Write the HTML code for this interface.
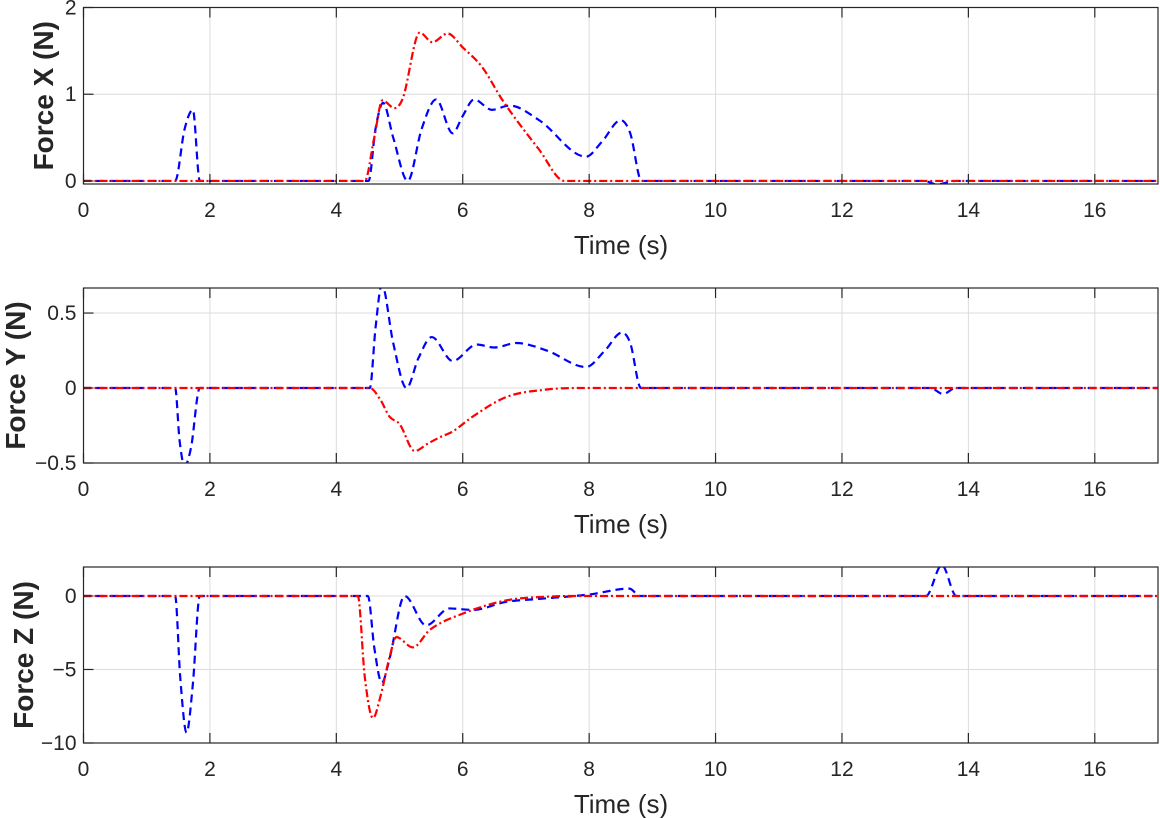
<!DOCTYPE html>
<html><head><meta charset="utf-8"><style>
html,body{margin:0;padding:0;background:#fff;}
svg{display:block;font-family:"Liberation Sans",Arial,sans-serif;}
</style></head><body>
<svg id="chart" width="1160" height="818" viewBox="0 0 1160 818" xmlns="http://www.w3.org/2000/svg"></svg>
<script>
// ----- data -----
const xTicks = [0,2,4,6,8,10,12,14,16];

const fxTime = [0,4.45,4.6,4.73,4.92,5.05,5.32,5.52,5.76,6.0,6.31,6.63,7.21,7.61,17];
const fxSim  = [0,0,0.5,0.93,0.84,0.95,1.71,1.6,1.70,1.54,1.31,0.93,0.36,0,0];
const fxMeasTime = [0,1.45,1.6,1.73,1.84,4.51,4.62,4.74,4.9,5.13,5.35,5.58,5.84,6.0,6.18,6.46,6.74,7.21,7.95,8.2,8.5,8.65,8.83,13.3,13.5,13.8,17];
const fxMeas = [0,0,0.6,0.82,0,0,0.6,0.90,0.5,0,0.6,0.94,0.55,0.75,0.94,0.82,0.87,0.70,0.28,0.45,0.70,0.55,0,0,-0.04,0,0];

const fyTime = [0,4.53,4.7,4.84,5.0,5.24,5.45,5.63,5.84,6.16,6.69,7.33,7.8,17];
const fySim  = [0,0,-0.08,-0.19,-0.24,-0.42,-0.37,-0.33,-0.29,-0.19,-0.06,-0.01,0,0];
const fyMeasTime = [0,1.45,1.52,1.6,1.7,1.84,4.53,4.62,4.72,4.9,5.11,5.3,5.51,5.84,6.22,6.5,6.85,7.33,7.95,8.25,8.52,8.65,8.82,13.4,13.6,13.8,17];
const fyMeas = [0,0,-0.35,-0.52,-0.4,0,0,0.4,0.69,0.3,0,0.2,0.34,0.18,0.29,0.27,0.30,0.25,0.14,0.25,0.37,0.3,0,0,-0.04,0,0];

const fzTime = [0,4.34,4.45,4.58,4.7,4.84,4.95,5.21,5.48,6.0,6.69,7.33,7.8,17];
const fzSim  = [0,0,-5.5,-8.3,-6.8,-4.2,-2.8,-3.5,-2.3,-1.2,-0.3,-0.05,0,0];
const fzMeasTime = [0,1.45,1.53,1.63,1.73,1.84,4.5,4.6,4.72,4.84,5.08,5.42,5.79,6.16,6.69,7.21,8.0,8.64,8.8,13.33,13.58,13.81,17];
const fzMeas = [0,0,-5.5,-9.3,-6,0,0,-3.5,-5.9,-4.3,0,-2.0,-0.85,-0.95,-0.4,-0.2,0.1,0.5,0,0,2.1,0,0];

const panels = [
  {name:'force-x', label:'Force X (N)', labelX:53, top:7.5, bottom:184, ymin:-0.035, ymax:2, yTicks:[0,1,2], yTickLabels:['0','1','2'], sim:[fxTime,fxSim], meas:[fxMeasTime,fxMeas]},
  {name:'force-y', label:'Force Y (N)', labelX:25, top:288, bottom:463, ymin:-0.5, ymax:0.667, yTicks:[-0.5,0,0.5], yTickLabels:['\u22120.5','0','0.5'], sim:[fyTime,fySim], meas:[fyMeasTime,fyMeas]},
  {name:'force-z', label:'Force Z (N)', labelX:33, top:567, bottom:743, ymin:-10, ymax:1.97, yTicks:[-10,-5,0], yTickLabels:['\u221210','\u22125','0'], sim:[fzTime,fzSim], meas:[fzMeasTime,fzMeas]}
];

const NS='http://www.w3.org/2000/svg';
const svg=document.getElementById('chart');
const L=83.5, R=1158, XMIN=0, XMAX=17;
const xs = t => L + (t-XMIN)/(XMAX-XMIN)*(R-L);
function mk(tag, attrs, parent){const e=document.createElementNS(NS,tag);for(const k in attrs)e.setAttribute(k,attrs[k]);(parent||svg).appendChild(e);return e;}

function pathD(p){
  const n=p.length, d=[], m=new Array(n).fill(0);
  for(let i=0;i<n-1;i++) d.push((p[i+1][1]-p[i][1])/(p[i+1][0]-p[i][0]));
  m[0]=d[0]; m[n-1]=d[n-2];
  for(let i=1;i<n-1;i++){ m[i]=(d[i-1]*d[i]<=0)?0:(d[i-1]+d[i])/2; }
  for(let i=0;i<n-1;i++){
    if(d[i]===0){m[i]=0;m[i+1]=0;continue;}
    const a=m[i]/d[i], b=m[i+1]/d[i], s=a*a+b*b;
    if(s>9){const t=3/Math.sqrt(s); m[i]=t*a*d[i]; m[i+1]=t*b*d[i];}
  }
  let s='M'+p[0][0].toFixed(2)+','+p[0][1].toFixed(2);
  for(let i=0;i<n-1;i++){
    const h=(p[i+1][0]-p[i][0])/3;
    s+=' C'+(p[i][0]+h).toFixed(2)+','+(p[i][1]+m[i]*h).toFixed(2)+' '+(p[i+1][0]-h).toFixed(2)+','+(p[i+1][1]-m[i+1]*h).toFixed(2)+' '+p[i+1][0].toFixed(2)+','+p[i+1][1].toFixed(2);
  }
  return s;
}

panels.forEach((p,pi)=>{
  const ys = v => p.bottom - (v-p.ymin)/(p.ymax-p.ymin)*(p.bottom-p.top);
  const g=mk('g',{});
  
  
  const cp=mk('clipPath',{id:'clip'+pi},g);
  mk('rect',{x:L,y:p.top,width:R-L,height:p.bottom-p.top},cp);
  xTicks.forEach(t=>{
    const l=mk('line',{x1:xs(t),x2:xs(t),y1:p.top,y2:p.bottom,stroke:'#dcdcdc','stroke-width':1},g);
    
    
  });
  p.yTicks.forEach(v=>{
    const l=mk('line',{x1:L,x2:R,y1:ys(v),y2:ys(v),stroke:'#dcdcdc','stroke-width':1},g);
    
    
  });
  const simPts=p.sim[0].map((t,i)=>[xs(t),ys(p.sim[1][i])]);
  const measPts=p.meas[0].map((t,i)=>[xs(t),ys(p.meas[1][i])]);
  const sm=mk('path',{d:pathD(measPts),fill:'none',stroke:'#0000ff','stroke-width':2.2,'stroke-dasharray':'8,5','clip-path':'url(#clip'+pi+')'},g);
  
  
  const ss=mk('path',{d:pathD(simPts),fill:'none',stroke:'#ff0000','stroke-width':2.2,'stroke-dasharray':'8,3,2,3','clip-path':'url(#clip'+pi+')'},g);
  
  
  const box=mk('rect',{x:L,y:p.top,width:R-L,height:p.bottom-p.top,fill:'none',stroke:'#262626','stroke-width':1.2},g);
  
  
  xTicks.forEach(t=>{
    mk('line',{x1:xs(t),x2:xs(t),y1:p.bottom,y2:p.bottom-10,stroke:'#262626','stroke-width':1.2},g);
    mk('line',{x1:xs(t),x2:xs(t),y1:p.top,y2:p.top+10,stroke:'#262626','stroke-width':1.2},g);
    const tx=mk('text',{x:xs(t),y:p.bottom+33,'text-anchor':'middle','font-size':21,fill:'#262626'},g);
    tx.textContent=String(t);
    
    
  });
  p.yTicks.forEach((v,i)=>{
    mk('line',{x1:L,x2:L+10,y1:ys(v),y2:ys(v),stroke:'#262626','stroke-width':1.2},g);
    const tx=mk('text',{x:L-7,y:ys(v)+7,'text-anchor':'end','font-size':21,fill:'#262626'},g);
    tx.textContent=p.yTickLabels[i];
    
    
  });
  const xl=mk('text',{x:621,y:p.bottom+70,'text-anchor':'middle','font-size':26,fill:'#262626'},g);
  xl.textContent='Time (s)';
  
  
  const cy=(p.top+p.bottom)/2;
  const yl=mk('text',{x:0,y:0,'text-anchor':'middle','font-size':28,'font-weight':'bold',fill:'#262626',transform:'translate('+p.labelX+','+cy+') rotate(-90)'},g);
  yl.textContent=p.label;
  
  
});
</script>
</body></html>
